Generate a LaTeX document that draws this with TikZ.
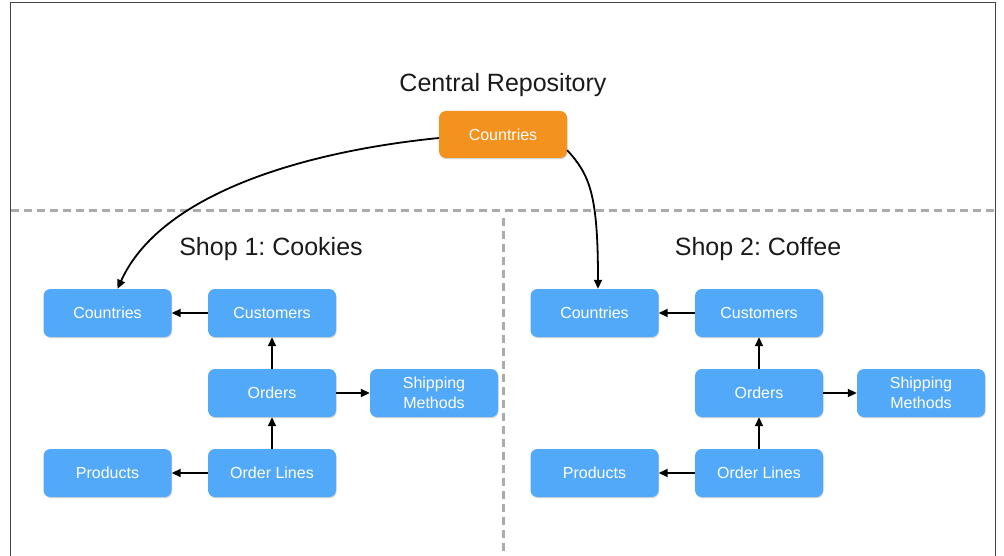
\documentclass[tikz,border=0pt]{standalone}
\usepackage{fontspec}
\setmainfont{Liberation Sans}
\usetikzlibrary{shadows,arrows.meta}
\definecolor{boxblue}{HTML}{52A8F9}
\definecolor{boxorange}{HTML}{F3921F}
\definecolor{dashgray}{HTML}{ABABAB}
\definecolor{framegray}{HTML}{444444}
\definecolor{titlegray}{HTML}{1A1A1A}
\frenchspacing
\tikzset{
  entity/.style={rounded corners=7pt, fill=boxblue, text=white,
    minimum width=128pt, minimum height=48pt, inner sep=0pt,
    align=center, font=\fontsize{16}{19.5}\selectfont,
    drop shadow={opacity=0.35, shadow xshift=0.6pt, shadow yshift=-1.2pt}},
  central/.style={entity, fill=boxorange, minimum height=47pt},
  title/.style={anchor=base, text=titlegray, font=\fontsize{25}{28}\selectfont},
  conn/.style={-{Triangle[length=9pt,width=8pt]}, line width=1.8pt, black},
  divider/.style={dashgray, line width=3pt, dash pattern=on 8pt off 5pt},
}
\begin{document}
\begin{tikzpicture}[x=1pt,y=-1pt]
\useasboundingbox (0,0) rectangle (1004,556);
% frame
\draw[framegray, line width=1pt] (10.5,556) -- (10.5,2.5) -- (995.5,2.5) -- (995.5,556);
% dividers
\draw[divider] (11,211) -- (995,211);
\draw[divider] (503,218) -- (503,556);
% titles
\node[title] (t0) at (503,92) {Central Repository};
\node[title] (t1) at (271,255) {Shop 1: Cookies};
\node[title] (t2) at (758,255) {Shop 2: Coffee};
% central
\node[central] (cc) at (503,134.5) {Countries};
% shop 1
\node[entity] (Lcountries) at (107.5,313) {Countries};
\node[entity] (Lcustomers) at (272,313) {Customers};
\node[entity] (Lorders) at (272,393) {Orders};
\node[entity] (Lship) at (434,393) {Shipping\\Methods};
\node[entity] (Lproducts) at (107.5,473) {Products};
\node[entity] (Llines) at (272,473) {Order Lines};
% shop 2
\node[entity] (Rcountries) at (594.5,313) {Countries};
\node[entity] (Rcustomers) at (759,313) {Customers};
\node[entity] (Rorders) at (759,393) {Orders};
\node[entity] (Rship) at (921,393) {Shipping\\Methods};
\node[entity] (Rproducts) at (594.5,473) {Products};
\node[entity] (Rlines) at (759,473) {Order Lines};
% central connectors
\draw[conn] ([yshift=-3.5pt]cc.west) .. controls (300,152) and (160,195) .. ([xshift=10pt]Lcountries.north);
\draw[conn] ([yshift=8pt]cc.south east) .. controls (590,175) and (598,195) .. ([xshift=3.5pt]Rcountries.north);
% shop connectors
\foreach \s in {L,R}{
  \draw[conn] (\s customers) -- (\s countries);
  \draw[conn] (\s orders) -- (\s customers);
  \draw[conn] (\s orders) -- (\s ship);
  \draw[conn] (\s lines) -- (\s orders);
  \draw[conn] (\s lines) -- (\s products);
}
\end{tikzpicture}
\end{document}
